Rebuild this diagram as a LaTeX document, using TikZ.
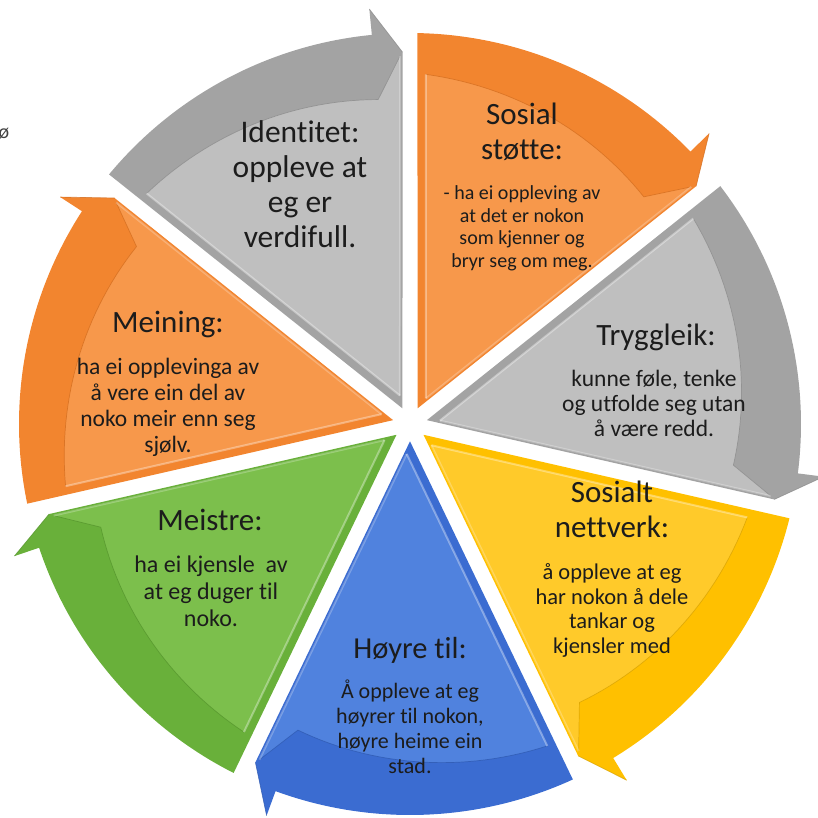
\documentclass[tikz,border=0pt]{standalone}
\usepackage{fontspec}
\setmainfont{Carlito}[Ligatures=NoCommon]
\definecolor{grayB}{HTML}{A3A3A3}
\definecolor{grayI}{HTML}{BFBFBF}
\definecolor{grayL}{HTML}{888888}
\definecolor{orB}{HTML}{F2852F}
\definecolor{orI}{HTML}{F7984B}
\definecolor{orL}{HTML}{D06A1C}
\definecolor{yeB}{HTML}{FFC000}
\definecolor{yeI}{HTML}{FFCA2A}
\definecolor{yeL}{HTML}{D49F00}
\definecolor{blB}{HTML}{3B6CD1}
\definecolor{blI}{HTML}{5082DE}
\definecolor{blL}{HTML}{2C56AC}
\definecolor{grB}{HTML}{69B03A}
\definecolor{grI}{HTML}{7CBF4C}
\definecolor{grL}{HTML}{52912A}
\definecolor{txt}{HTML}{1C1C1C}
\newcommand\cycseg[4]{%
  \pgfmathsetmacro\sA{#1}%
  \pgfmathsetmacro\eA{#1-360/7}%
  \pgfmathsetmacro\mA{#1-180/7}%
  \pgfmathsetmacro\aS{\sA-asin(7.5/391)}%
  \pgfmathsetmacro\aB{\eA+5.6}%
  \pgfmathsetmacro\aT{\eA+asin(7.5/372)}%
  \pgfmathsetmacro\iS{\sA-asin(16/350)}%
  \pgfmathsetmacro\iT{\eA+asin(10/368)}%
  \pgfmathsetmacro\iA{\mA-6.3}%
  \fill[#2] (\mA:17.3) -- (\aS:391) arc[start angle=\aS, end angle=\aB, radius=391pt] -- (\aB:417) -- (\aT:372) -- cycle;
  \fill[#3] (\iA:30.1) -- (\iS:350) -- plot[domain=\iS:\aB, samples=30, variable=\tt] ({\tt}:{350-24*(\iS-\tt)/(\iS-\aB)}) -- (\iT:368) -- cycle;
  \draw[#4, line width=0.7pt, line join=round, opacity=.7] (\iS:350) -- plot[domain=\iS:\aB, samples=30, variable=\tt] ({\tt}:{350-24*(\iS-\tt)/(\iS-\aB)}) -- (\iT:368);
  \draw[#4, line width=0.7pt, line join=round, opacity=.7] (\aB:417) -- (\aT:372);
  \draw[white, opacity=.35, line width=2pt] (\iA:30.1) -- (\iS:350);
  \draw[white, opacity=.25, line width=2pt] (\iA:30.1) -- (\iT:368);
}
\tikzset{lbl/.style={text=txt, align=center, anchor=base, inner sep=0pt}}
\begin{document}
\begin{tikzpicture}[x=1pt,y=1pt]
\useasboundingbox (-410,-393) rectangle (408,424);
\cycseg{141.4286}{grayB}{grayI}{grayL}
\cycseg{90}{orB}{orI}{orL}
\cycseg{38.5714}{grayB}{grayI}{grayL}
\cycseg{-12.8571}{yeB}{yeI}{yeL}
\cycseg{-64.2857}{blB}{blI}{blL}
\cycseg{-115.7143}{grB}{grI}{grL}
\cycseg{-167.1429}{orB}{orI}{orL}

\node[lbl, font=\fontsize{31.5}{34.7}\selectfont] (ident) at (-110,177) {Identitet:\\oppleve at\\eg er\\verdifull.};
\node[lbl, font=\fontsize{31}{35}\selectfont] (sosT) at (112,264) {Sosial\\støtte:};
\node[lbl, font=\fontsize{20}{22.4}\selectfont] (sosB) at (112,157) {- ha ei oppleving av\\at det er nokon\\som kjenner og\\bryr seg om meg.};
\node[lbl, font=\fontsize{31}{35}\selectfont] (trygT) at (246,79) {Tryggleik:};
\node[lbl, font=\fontsize{23.5}{25}\selectfont] (trygB) at (244,-12) {kunne føle, tenke\\og utfolde seg utan\\å være redd.};
\node[lbl, font=\fontsize{31}{35}\selectfont] (nettT) at (202,-113) {Sosialt\\nettverk:};
\node[lbl, font=\fontsize{22.5}{24.5}\selectfont] (nettB) at (202,-229) {å oppleve at eg\\har nokon å dele\\tankar og\\kjensler med};
\node[lbl, font=\fontsize{30.5}{35}\selectfont] (hoyT) at (0,-234) {Høyre til:};
\node[lbl, font=\fontsize{22}{25}\selectfont] (hoyB) at (0,-349) {Å oppleve at eg\\høyrer til nokon,\\høyre heime ein\\stad.};
\node[lbl, font=\fontsize{31}{35}\selectfont] (meiT) at (-200,-106) {Meistre:};
\node[lbl, font=\fontsize{24}{27}\selectfont] (meiB) at (-199,-202) {ha ei kjensle~ av\\at eg duger til\\noko.};
\node[lbl, font=\fontsize{31}{35}\selectfont] (meinT) at (-242,92) {Meining:};
\node[lbl, font=\fontsize{23.5}{25.7}\selectfont] (meinB) at (-242,-28) {ha ei opplevinga av\\å vere ein del av\\noko meir enn seg\\sjølv.};
\node[lbl, text=black!75, font=\fontsize{20}{22}\selectfont] (stray) at (-406,285) {ø};
\end{tikzpicture}
\end{document}
